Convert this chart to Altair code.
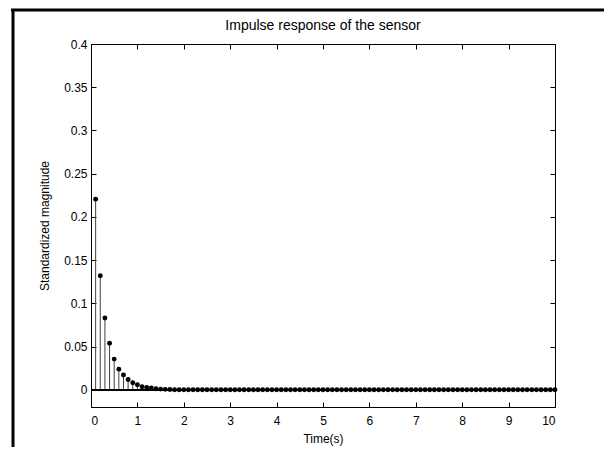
import altair as alt
import pandas as pd

time_s = [
    0.1, 0.2, 0.3, 0.4, 0.5, 0.6, 0.7, 0.8, 0.9, 1.0,
    1.1, 1.2, 1.3, 1.4, 1.5, 1.6, 1.7, 1.8, 1.9, 2.0,
    2.1, 2.2, 2.3, 2.4, 2.5, 2.6, 2.7, 2.8, 2.9, 3.0,
    3.1, 3.2, 3.3, 3.4, 3.5, 3.6, 3.7, 3.8, 3.9, 4.0,
    4.1, 4.2, 4.3, 4.4, 4.5, 4.6, 4.7, 4.8, 4.9, 5.0,
    5.1, 5.2, 5.3, 5.4, 5.5, 5.6, 5.7, 5.8, 5.9, 6.0,
    6.1, 6.2, 6.3, 6.4, 6.5, 6.6, 6.7, 6.8, 6.9, 7.0,
    7.1, 7.2, 7.3, 7.4, 7.5, 7.6, 7.7, 7.8, 7.9, 8.0,
    8.1, 8.2, 8.3, 8.4, 8.5, 8.6, 8.7, 8.8, 8.9, 9.0,
    9.1, 9.2, 9.3, 9.4, 9.5, 9.6, 9.7, 9.8, 9.9, 10.0,
]
magnitude = [
    0.2205, 0.1318, 0.0830, 0.0538, 0.0354, 0.0238, 0.0170, 0.0119, 0.0080, 0.0058,
    0.0035, 0.0025, 0.0020, 0.0012, 0.0007, 0.0004, 0.0002, 0.0, 0.0, 0.0,
    0.0, 0.0, 0.0, 0.0, 0.0, 0.0, 0.0, 0.0, 0.0, 0.0,
    0.0, 0.0, 0.0, 0.0, 0.0, 0.0, 0.0, 0.0, 0.0, 0.0,
    0.0, 0.0, 0.0, 0.0, 0.0, 0.0, 0.0, 0.0, 0.0, 0.0,
    0.0, 0.0, 0.0, 0.0, 0.0, 0.0, 0.0, 0.0, 0.0, 0.0,
    0.0, 0.0, 0.0, 0.0, 0.0, 0.0, 0.0, 0.0, 0.0, 0.0,
    0.0, 0.0, 0.0, 0.0, 0.0, 0.0, 0.0, 0.0, 0.0, 0.0,
    0.0, 0.0, 0.0, 0.0, 0.0, 0.0, 0.0, 0.0, 0.0, 0.0,
    0.0, 0.0, 0.0, 0.0, 0.0, 0.0, 0.0, 0.0, 0.0, 0.0,
]
x_ticks = [0, 1, 2, 3, 4, 5, 6, 7, 8, 9, 10]
y_ticks = [0, 0.05, 0.1, 0.15, 0.2, 0.25, 0.3, 0.35, 0.4]
x_domain = [0, 10]
y_domain = [-0.02, 0.4]
title_text = "Impulse response of the sensor"
x_title = "Time(s)"
y_title = "Standardized magnitude"

df = pd.DataFrame({"t": time_s, "v": magnitude})

FONT = "Liberation Sans"
W, H = 464, 363

xs = alt.Scale(domain=x_domain, nice=False, zero=False)
ys = alt.Scale(domain=y_domain, nice=False, zero=False)


def tick_axis(orient, values):
    return alt.Axis(orient=orient, values=values, labels=False, domain=False,
                    ticks=True, tickSize=5, tickColor="black", tickWidth=1,
                    offset=-5, grid=False, title=None)


label_x = alt.Axis(orient="bottom", values=x_ticks, format="d", ticks=False,
                   domain=False, grid=False, labelFont=FONT, labelFontSize=12,
                   labelColor="black", labelPadding=8, title=x_title,
                   titleFont=FONT, titleFontSize=12, titleFontWeight="normal",
                   titleColor="black", titlePadding=7)
label_y = alt.Axis(orient="left", values=y_ticks, format="~g", ticks=False,
                   domain=False, grid=False, labelFont=FONT, labelFontSize=12,
                   labelColor="black", labelPadding=4, title=y_title,
                   titleFont=FONT, titleFontSize=12, titleFontWeight="normal",
                   titleColor="black", titlePadding=12)

stems = alt.Chart(df).mark_rule(color="#404040", strokeWidth=1).encode(
    x=alt.X("t:Q", scale=xs, axis=label_x),
    y=alt.Y("v:Q", scale=ys, axis=label_y),
    y2=alt.datum(0),
)

baseline = alt.Chart(df).mark_rule(color="black", strokeWidth=1).encode(
    y=alt.YDatum(0, axis=None),
)

dots = alt.Chart(df).mark_circle(size=24, color="black", opacity=1).encode(
    x=alt.X("t:Q", scale=xs, axis=tick_axis("top", x_ticks)),
    y=alt.Y("v:Q", scale=ys, axis=tick_axis("right", y_ticks)),
)

inner_ticks = alt.Chart(df).mark_point(opacity=0).encode(
    x=alt.X("t:Q", scale=xs, axis=tick_axis("bottom", x_ticks)),
    y=alt.Y("v:Q", scale=ys, axis=tick_axis("left", y_ticks)),
)

frame_src = alt.InlineData(values=[{"k": 1}])
frame_top = alt.Chart(frame_src).mark_rule(color="black", strokeWidth=3).encode(
    x=alt.value(-80), x2=alt.value(513), y=alt.value(-34))
frame_left = alt.Chart(frame_src).mark_rule(color="black", strokeWidth=3).encode(
    x=alt.value(-78), y=alt.value(-35), y2=alt.value(404))

chart = alt.layer(
    stems, baseline, dots, inner_ticks, frame_top, frame_left
).resolve_axis(x="independent", y="independent").properties(
    width=W, height=H,
    title=alt.TitleParams(title_text, font=FONT, fontSize=14, fontWeight="normal",
                          color="black", anchor="middle", frame="group",
                          baseline="alphabetic", offset=-36),
    autosize=alt.AutoSizeParams(type="none"),
    padding={"left": 83, "top": 36, "right": 49, "bottom": 40},
    background="white",
).configure_view(stroke="black", strokeWidth=1)

chart.save("out.html", embed_options={"renderer": "svg", "actions": False})
